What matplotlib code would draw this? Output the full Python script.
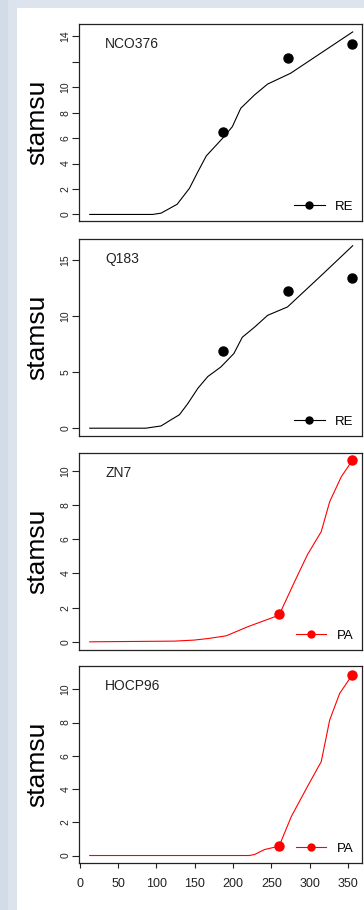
import matplotlib.pyplot as plt
from matplotlib.lines import Line2D
from matplotlib.patches import Rectangle

plt.rcParams['font.family'] = ['Liberation Sans', 'DejaVu Sans']

# datos de cada variedad
nombres = ['NCO376', 'Q183', 'ZN7', 'HOCP96']
grupos = ['RE', 'RE', 'PA', 'PA']
colores = ['black', 'black', 'red', 'red']

dias_sim = [
    [13, 95, 106, 127, 143, 154, 165, 188, 199, 210, 228, 245, 275, 356],
    [13, 86, 106, 119, 130, 141, 154, 167, 184, 201, 212, 228, 245, 271, 315, 356],
    [13, 123, 149, 167, 191, 219, 260, 280, 297, 315, 326, 341, 356],
    [13, 221, 228, 241, 260, 276, 297, 315, 326, 339, 356],
]
stamsu_sim = [
    [0, 0, 0.1, 0.8, 2.05, 3.35, 4.6, 6.1, 6.9, 8.35, 9.4, 10.25, 11.1, 14.35],
    [0, 0, 0.2, 0.75, 1.2, 2.2, 3.55, 4.6, 5.45, 6.65, 8.1, 9.0, 10.05, 10.8, 13.6, 16.25],
    [0, 0.04, 0.1, 0.19, 0.35, 0.88, 1.56, 3.5, 5.1, 6.45, 8.2, 9.65, 10.65],
    [0, 0, 0.06, 0.36, 0.56, 2.35, 4.15, 5.65, 8.15, 9.75, 10.9],
]
dias_obs = [
    [187, 272, 355],
    [187, 272, 355],
    [260, 355],
    [260, 355],
]
stamsu_obs = [
    [6.45, 12.3, 13.4],
    [6.85, 12.25, 13.4],
    [1.6, 10.65],
    [0.58, 10.88],
]

yticks = [[0, 2, 4, 6, 8, 10, 12, 14], [0, 5, 10, 15], [0, 2, 4, 6, 8, 10], [0, 2, 4, 6, 8, 10]]
ylabels_tick = [['0', '2', '4', '6', '8', '10', '', '14'], ['0', '5', '10', '15'],
                ['0', '2', '4', '6', '8', '10'], ['0', '2', '4', '6', '8', '10']]
ylims = [(-0.5, 14.95), (-0.65, 16.85), (-0.45, 11.05), (-0.42, 11.4)]
xticks = [0, 50, 100, 150, 200, 250, 300, 350]

W, H = 364, 910
fig = plt.figure(figsize=(W / 100, H / 100), dpi=100)
fig.patch.set_facecolor('white')

# fondo tipo captura de pantalla
fig.patches.append(Rectangle((0, 1 - 8 / H), 1, 8 / H, transform=fig.transFigure,
                             facecolor='#dde4ee', edgecolor='none', zorder=0))
fig.patches.append(Rectangle((0, 0), 17 / W, 1, transform=fig.transFigure,
                             facecolor='#dbe3ed', edgecolor='none', zorder=0))
fig.patches.append(Rectangle((0, 0), 8 / W, 1, transform=fig.transFigure,
                             facecolor='#d2dce8', edgecolor='none', zorder=0))

tops = [24.3, 239, 453, 666]
alto = 196.5
izq, der = 79.4, 361.5

for i in range(4):
    ax = fig.add_axes([izq / W, 1 - (tops[i] + alto) / H, (der - izq) / W, alto / H])
    c = colores[i]
    ax.plot(dias_sim[i], stamsu_sim[i], color=c, lw=0.8)
    ax.plot(dias_obs[i], stamsu_obs[i], 'o', color=c, ms=6.5)

    ax.set_xlim(-0.5, 367.5)
    ax.set_ylim(*ylims[i])
    ax.set_yticks(yticks[i])
    ax.set_yticklabels(ylabels_tick[i], rotation=90, va='center', fontsize=7.5, color='#222')
    ax.tick_params(axis='y', length=5, width=0.8, pad=1.5, color='#222')
    ax.set_xticks(xticks)
    if i == 3:
        ax.set_xticklabels([str(t) for t in xticks], fontsize=9, color='#222')
        ax.tick_params(axis='x', length=3.5, width=0.8, pad=7.5, color='#222')
    else:
        ax.tick_params(axis='x', length=0, labelbottom=False)

    for s in ax.spines.values():
        s.set_linewidth(0.9)
        s.set_color('#222')

    # etiqueta del eje y centrada en x=36 px
    ax.set_ylabel('stamsu', fontsize=19)
    ax.yaxis.label.set_va('center')
    ax.yaxis.set_label_coords(-(izq - 37) / (der - izq), 0.5)

    ax.text(0.092, 0.898, nombres[i], transform=ax.transAxes, fontsize=10,
            va='center', ha='left', color='#222')

    h = Line2D([], [], color=c, lw=0.8, marker='o', ms=5)
    ax.legend([h], [grupos[i]], loc='lower right', frameon=False, fontsize=9.5,
              handlelength=2.3, handletextpad=0.8, borderpad=0.3, borderaxespad=0.3)

fig.savefig('out.png', dpi=100)
